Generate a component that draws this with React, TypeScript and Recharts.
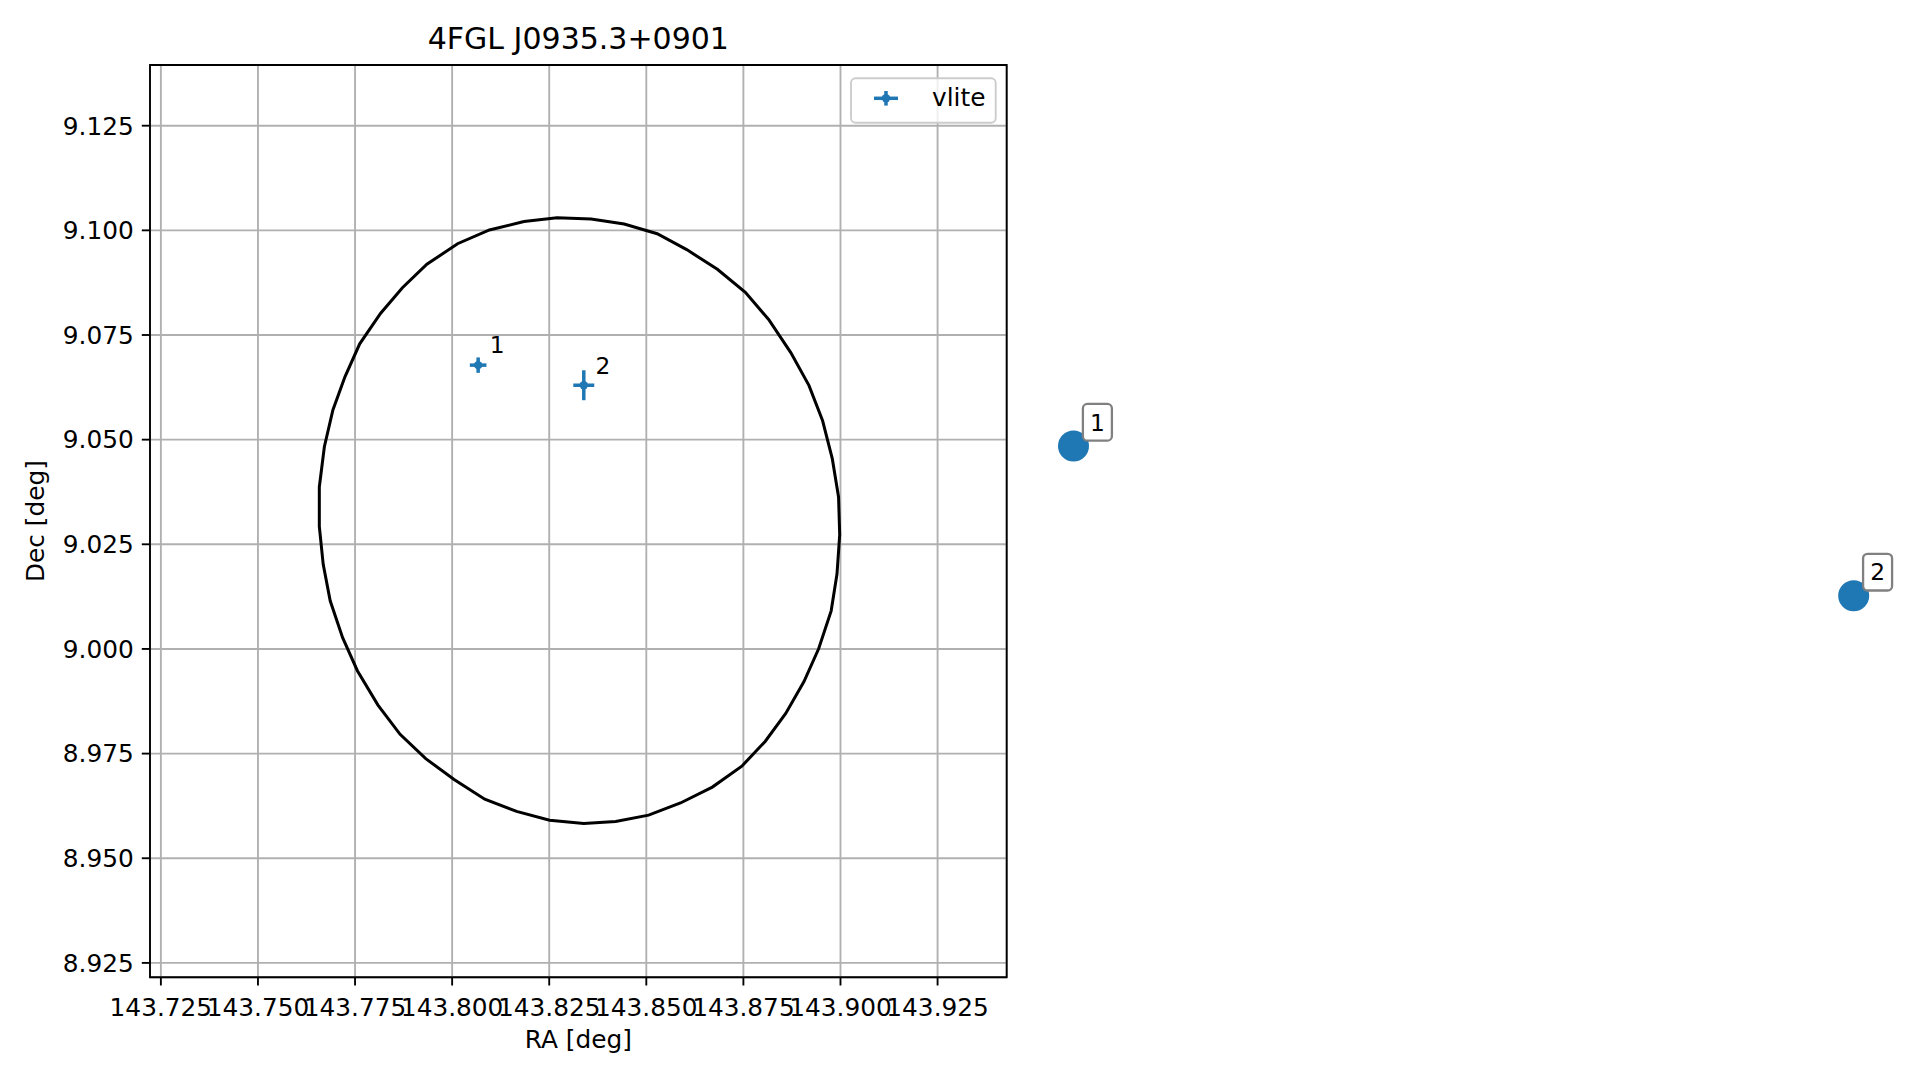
import React from 'react';
import {
  ScatterChart,
  Scatter,
  XAxis,
  YAxis,
  CartesianGrid,
  ErrorBar,
  ReferenceDot,
  ReferenceArea,
} from 'recharts';

// ---- data ----
const title = '4FGL J0935.3+0901';
const xLabel = 'RA [deg]';
const yLabel = 'Dec [deg]';
const legendLabel = 'vlite';

// 95% error ellipse outline (polygon vertices, RA / Dec in deg)
const ellipseRa = [
  143.8185, 143.8096, 143.8014, 143.7935, 143.7872, 143.7816, 143.7762, 143.7724, 143.7693, 143.7671,
  143.7658, 143.7658, 143.7668, 143.7686, 143.7718, 143.7756, 143.7809, 143.7866, 143.7932, 143.8005,
  143.8084, 143.8166, 143.8251, 143.8339, 143.8421, 143.8506, 143.8588, 143.8670, 143.8746, 143.8806,
  143.8859, 143.8906, 143.8944, 143.8976, 143.8991, 143.8998, 143.8995, 143.8979, 143.8954, 143.8919,
  143.8872, 143.8815, 143.8755, 143.8683, 143.8604, 143.8528, 143.8443, 143.8358, 143.8270, 143.8185,
];
const ellipseDec = [
  9.1021, 9.1001, 9.0968, 9.0919, 9.0863, 9.0802, 9.0729, 9.0650, 9.0571, 9.0483,
  9.0387, 9.0293, 9.0202, 9.0115, 9.0027, 8.9948, 8.9866, 8.9796, 8.9738, 8.9688,
  8.9641, 8.9612, 8.9591, 8.9583, 8.9588, 8.9603, 8.9632, 8.9670, 8.9720, 8.9779,
  8.9846, 8.9922, 9.0001, 9.0091, 9.0179, 9.0273, 9.0363, 9.0454, 9.0545, 9.0629,
  9.0708, 9.0787, 9.0852, 9.0907, 9.0954, 9.0992, 9.1015, 9.1027, 9.1030, 9.1021,
];

// VLITE sources
const sourceIds = ['1', '2'];
const vliteRa = [143.8067, 143.8339];
const vliteDec = [9.0678, 9.063];
const vliteRaErr = [0.00214, 0.0027];
const vliteDecErr = [0.00184, 0.00358];

// big annotated markers (drawn outside the axes)
const markerRa = [143.96, 144.1609];
const markerDec = [9.0485, 9.0127];

const xTicks = [143.725, 143.75, 143.775, 143.8, 143.825, 143.85, 143.875, 143.9, 143.925];
const yTicks = [8.925, 8.95, 8.975, 9.0, 9.025, 9.05, 9.075, 9.1, 9.125];
const xDomain: [number, number] = [143.7222, 143.9428];
const yDomain: [number, number] = [8.92156, 9.1395];

// ---- tables for the library ----
const ellipseData = ellipseRa.map((ra, i) => ({ ra, dec: ellipseDec[i] }));
const vliteData = sourceIds.map((id, i) => ({
  id,
  ra: vliteRa[i],
  dec: vliteDec[i],
  raErr: vliteRaErr[i],
  decErr: vliteDecErr[i],
}));
const markerData = sourceIds.map((id, i) => ({ id, ra: markerRa[i], dec: markerDec[i] }));

// ---- style ----
const FONT = 'DejaVu Sans';
const BLUE = '#1f77b4';
const W = 1919;
const H = 1080;
const PLOT_LEFT = 150;
const PLOT_TOP = 65;
const PLOT_RIGHT = 1006.7;
const PLOT_BOTTOM = 977.3;
const TICK_FONT = 24.8;
const Y_AXIS_W = 140;
const X_AXIS_H = 90;

const fmt = (v: number) => Number(v).toFixed(3);

const VliteShape = (p: any) => {
  const { cx, cy, payload } = p;
  if (cx == null || cy == null) return <g />;
  return (
    <g>
      <circle cx={cx} cy={cy} r={4.2} fill={BLUE} />
      <text x={cx + 11.7} y={cy - 11.7} fontFamily={FONT} fontSize={23.3} fill="#000">
        {payload.id}
      </text>
    </g>
  );
};

const makeMarkerShape = (id: string) => (p: any) => {
  const { cx, cy } = p;
  if (cx == null || cy == null) return <g />;
  return (
    <g>
      <circle cx={cx} cy={cy} r={15.5} fill={BLUE} />
      <rect
        x={cx + 9.4}
        y={cy - 42}
        width={29}
        height={36.7}
        rx={4.5}
        ry={4.5}
        fill="#ffffff"
        stroke="#808080"
        strokeWidth={2.3}
      />
      <text
        x={cx + 24}
        y={cy - 15.3}
        textAnchor="middle"
        fontFamily={FONT}
        fontSize={23.3}
        fill="#000"
      >
        {id}
      </text>
    </g>
  );
};

export default function App() {
  return (
    <div style={{ position: 'absolute', left: 0, top: 0, width: W, height: H, background: '#fff' }}>
      <ScatterChart
        width={W}
        height={H}
        margin={{
          top: PLOT_TOP,
          left: PLOT_LEFT - Y_AXIS_W,
          right: W - PLOT_RIGHT,
          bottom: H - PLOT_BOTTOM - X_AXIS_H,
        }}
      >
        <CartesianGrid stroke="#b0b0b0" strokeWidth={1.87} />
        <XAxis
          type="number"
          dataKey="ra"
          domain={xDomain}
          allowDataOverflow
          ticks={xTicks}
          interval={0}
          tickFormatter={fmt}
          height={X_AXIS_H}
          axisLine={false}
          tickLine={{ stroke: '#000', strokeWidth: 1.87 }}
          tickSize={8.2}
          tickMargin={13}
          tick={{ fontSize: TICK_FONT, fill: '#000', fontFamily: FONT }}
        />
        <YAxis
          type="number"
          dataKey="dec"
          domain={yDomain}
          allowDataOverflow
          ticks={yTicks}
          interval={0}
          tickFormatter={fmt}
          width={Y_AXIS_W}
          axisLine={false}
          tickLine={{ stroke: '#000', strokeWidth: 1.87 }}
          tickSize={8.2}
          tickMargin={8}
          tick={{ fontSize: TICK_FONT, fill: '#000', fontFamily: FONT }}
        />
        <Scatter
          name="ellipse"
          data={ellipseData}
          isAnimationActive={false}
          line={{ stroke: '#000', strokeWidth: 3 }}
          lineType="joint"
          shape={() => <g />}
          legendType="none"
        />
        <Scatter
          name={legendLabel}
          data={vliteData}
          isAnimationActive={false}
          fill={BLUE}
          shape={VliteShape}
        >
          <ErrorBar dataKey="raErr" direction="x" width={0} stroke={BLUE} strokeWidth={3.5} isAnimationActive={false} />
          <ErrorBar dataKey="decErr" direction="y" width={0} stroke={BLUE} strokeWidth={3.5} isAnimationActive={false} />
        </Scatter>
        <ReferenceArea
          x1={xDomain[0]}
          x2={xDomain[1]}
          y1={yDomain[0]}
          y2={yDomain[1]}
          fill="none"
          fillOpacity={0}
          stroke="#000"
          strokeWidth={1.87}
          ifOverflow="visible"
        />
        {markerData.map((m) => (
          <ReferenceDot
            key={m.id}
            x={m.ra}
            y={m.dec}
            r={15.5}
            ifOverflow="visible"
            shape={makeMarkerShape(m.id)}
          />
        ))}
        <text
          x={(PLOT_LEFT + PLOT_RIGHT) / 2}
          y={48.5}
          textAnchor="middle"
          fontFamily={FONT}
          fontSize={30}
          fill="#000"
        >
          {title}
        </text>
        <text
          x={(PLOT_LEFT + PLOT_RIGHT) / 2}
          y={1047.5}
          textAnchor="middle"
          fontFamily={FONT}
          fontSize={TICK_FONT}
          fill="#000"
        >
          {xLabel}
        </text>
        <text
          x={44.5}
          y={(PLOT_TOP + PLOT_BOTTOM) / 2}
          textAnchor="middle"
          fontFamily={FONT}
          fontSize={TICK_FONT}
          fill="#000"
          transform={`rotate(-90, 44.5, ${(PLOT_TOP + PLOT_BOTTOM) / 2})`}
        >
          {yLabel}
        </text>
        <g>
          <rect
            x={851}
            y={78.3}
            width={144.7}
            height={44.4}
            rx={4.5}
            ry={4.5}
            fill="#ffffff"
            fillOpacity={0.8}
            stroke="#cccccc"
            strokeWidth={1.87}
          />
          <line x1={874} y1={98.3} x2={898} y2={98.3} stroke={BLUE} strokeWidth={3.5} />
          <line x1={886} y1={91} x2={886} y2={105.6} stroke={BLUE} strokeWidth={3.5} />
          <circle cx={886} cy={98.3} r={4.2} fill={BLUE} />
          <text x={932} y={106} fontFamily={FONT} fontSize={TICK_FONT} fill="#000">
            {legendLabel}
          </text>
        </g>
      </ScatterChart>
    </div>
  );
}
